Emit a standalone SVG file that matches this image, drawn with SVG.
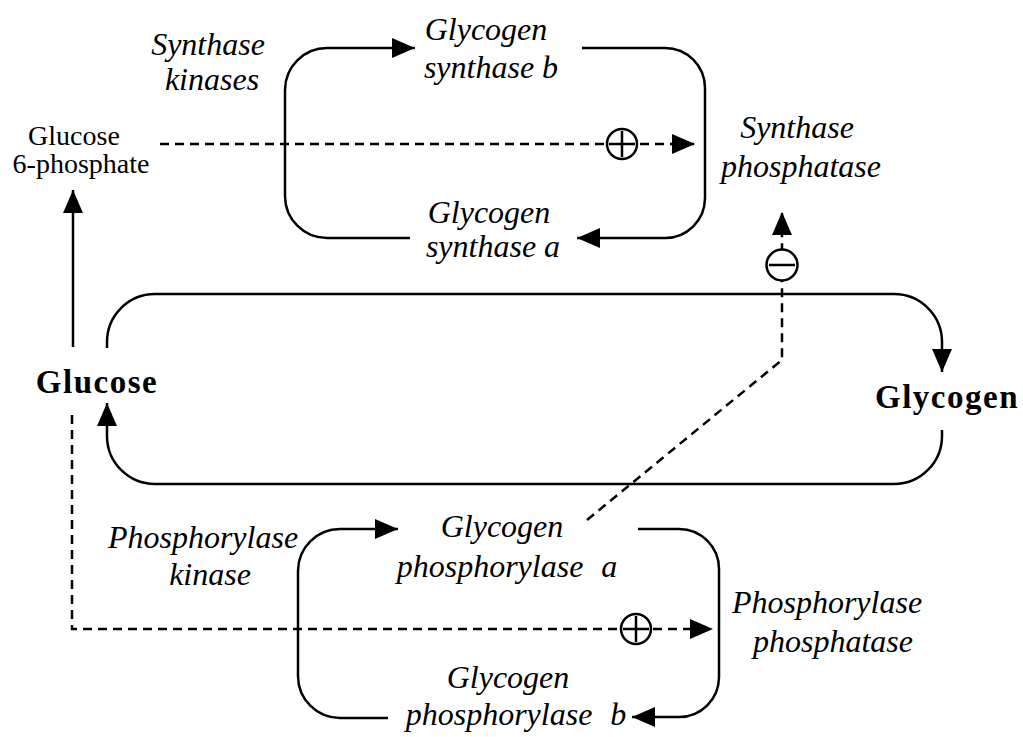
<svg xmlns="http://www.w3.org/2000/svg" width="1023" height="737" viewBox="0 0 1023 737">
<style>
.it{font-family:"Liberation Serif","DejaVu Serif",serif;font-style:italic;font-size:32px;fill:#000;text-anchor:middle}
.rg{font-family:"Liberation Serif",serif;font-size:28px;fill:#000;text-anchor:middle}
.bd{font-family:"Liberation Serif",serif;font-weight:bold;font-size:33px;letter-spacing:1.5px;fill:#000;text-anchor:middle}
.ln{fill:none;stroke:#000;stroke-width:2.5}
.ds{fill:none;stroke:#000;stroke-width:2.5;stroke-dasharray:9 6}
.sym{fill:#fff;stroke:#000;stroke-width:2.5}
.bar{stroke:#000;stroke-width:2.5}
</style>
<defs>
<marker id="arr" markerUnits="userSpaceOnUse" markerWidth="24" markerHeight="22" refX="23" refY="10" orient="auto" viewBox="0 0 24 22">
<path d="M0,0 L23,10 L0,20 z" fill="#000"/>
</marker>
</defs>
<rect width="1023" height="737" fill="#fff"/>
<g id="connectors">
<path class="ln" d="M410,238 H327 A42,42 0 0 1 285,196 V90 A42,42 0 0 1 327,48 H415" marker-end="url(#arr)"/>
<path class="ln" d="M582,48 H665 A40,40 0 0 1 705,88 V198 A40,40 0 0 1 665,238 H577" marker-end="url(#arr)"/>
<path class="ln" d="M107,348 V342 A48,48 0 0 1 155,294 H894 A48,48 0 0 1 942,342 V372" marker-end="url(#arr)"/>
<path class="ln" d="M942,430 V436 A48,48 0 0 1 894,484 H155 A48,48 0 0 1 107,436 V403" marker-end="url(#arr)"/>
<path class="ln" d="M73,347 V190" marker-end="url(#arr)"/>
<path class="ln" d="M388,718 H340 A42,42 0 0 1 298,676 V571 A42,42 0 0 1 340,529 H398" marker-end="url(#arr)"/>
<path class="ln" d="M638,529 H679 A40,40 0 0 1 719,569 V677 A40,40 0 0 1 679,717 H632" marker-end="url(#arr)"/>
<path class="ds" d="M160,144 H695" marker-end="url(#arr)"/>
<path class="ds" d="M72,415 V629 H713" marker-end="url(#arr)"/>
<path class="ds" d="M587,520 L782,360 V212" marker-end="url(#arr)"/>
<circle class="sym" cx="622" cy="144" r="15"/>
<path class="bar" d="M609,144 H635 M622,131 V157"/>
<circle class="sym" cx="636" cy="629" r="15"/>
<path class="bar" d="M623,629 H649 M636,616 V642"/>
<circle class="sym" cx="782" cy="265" r="15.5"/>
<path class="bar" d="M769,265 H795"/>
</g>
<g id="synthase-kinases"><text class="it" x="208" y="55">Synthase</text><text class="it" x="212" y="90">kinases</text></g>
<g id="glycogen-synthase-b"><text class="it" x="486" y="40">Glycogen</text><text class="it" x="491" y="78">synthase b</text></g>
<g id="glycogen-synthase-a"><text class="it" x="489" y="223">Glycogen</text><text class="it" x="493" y="257">synthase a</text></g>
<g id="synthase-phosphatase"><text class="it" x="797" y="138">Synthase</text><text class="it" x="801" y="177">phosphatase</text></g>
<g id="glucose-6-phosphate"><text class="rg" x="74" y="145">Glucose</text><text class="rg" x="81" y="173">6-phosphate</text></g>
<g id="glucose"><text class="bd" x="97" y="393">Glucose</text></g>
<g id="glycogen"><text class="bd" x="947" y="408">Glycogen</text></g>
<g id="phosphorylase-kinase"><text class="it" x="203" y="548">Phosphorylase</text><text class="it" x="210" y="585">kinase</text></g>
<g id="glycogen-phosphorylase-a"><text class="it" x="502" y="537">Glycogen</text><text class="it" x="507" y="577" word-spacing="10">phosphorylase a</text></g>
<g id="glycogen-phosphorylase-b"><text class="it" x="508" y="688">Glycogen</text><text class="it" x="516" y="725" word-spacing="10">phosphorylase b</text></g>
<g id="phosphorylase-phosphatase"><text class="it" x="827" y="613">Phosphorylase</text><text class="it" x="833" y="652">phosphatase</text></g>
</svg>
